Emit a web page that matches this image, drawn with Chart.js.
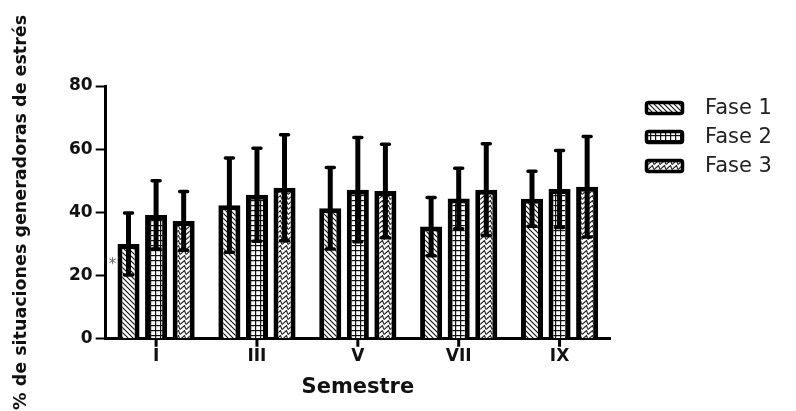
<!DOCTYPE html>
<html>
<head>
<meta charset="utf-8">
<script src="https://cdn.jsdelivr.net/npm/chart.js@4"></script>
<style>
  body { margin: 0; background: #fff; }
</style>
</head>
<body>
<canvas id="grafico" width="796" height="411"></canvas>
<script>
// datos
const semestres = ["I", "III", "V", "VII", "IX"];
const fase1 = [30.0, 42.3, 41.3, 35.5, 44.3];
const fase2 = [39.2, 45.6, 47.2, 44.4, 47.4];
const fase3 = [37.3, 47.8, 46.8, 47.2, 48.1];
const desvio1 = [9.8, 14.9, 12.9, 9.2, 8.7];
const desvio2 = [10.8, 14.7, 16.5, 9.6, 12.2];
const desvio3 = [9.3, 16.8, 14.8, 14.5, 15.9];
const marcaAsterisco = 24;

function crearTrama(tipo) {
  var c = document.createElement("canvas");
  var g = c.getContext("2d");
  if (tipo === "diagonal") {
    c.width = 5; c.height = 5;
    g.fillStyle = "#fff"; g.fillRect(0, 0, 5, 5);
    g.strokeStyle = "#111"; g.lineWidth = 1.1;
    g.beginPath();
    g.moveTo(-1, -1); g.lineTo(6, 6);
    g.moveTo(-1, 4); g.lineTo(1, 6);
    g.moveTo(4, -1); g.lineTo(6, 1);
    g.stroke();
  } else if (tipo === "cuadricula") {
    c.width = 5; c.height = 5;
    g.fillStyle = "#fff"; g.fillRect(0, 0, 5, 5);
    g.fillStyle = "#111";
    g.fillRect(0, 0, 5, 1.2);
    g.fillRect(0, 0, 1.2, 5);
  } else {
    c.width = 6; c.height = 5;
    g.fillStyle = "#fff"; g.fillRect(0, 0, 6, 5);
    g.strokeStyle = "#222"; g.lineWidth = 1.1;
    g.beginPath();
    g.moveTo(0, 4.5); g.lineTo(4.5, 0.5); g.lineTo(6, 4.5);
    g.stroke();
  }
  return g.createPattern(c, "repeat");
}

const tramas = [crearTrama("diagonal"), crearTrama("cuadricula"), crearTrama("zigzag")];

const barrasError = {
  id: "barrasError",
  afterDatasetsDraw(chart) {
    const ctx = chart.ctx;
    const y = chart.scales.y;
    ctx.save();
    ctx.strokeStyle = "#000";
    chart.data.datasets.forEach(function (ds, i) {
      const meta = chart.getDatasetMeta(i);
      meta.data.forEach(function (bar, j) {
        const m = ds.data[j];
        const sd = ds.desvio[j];
        const yAlto = y.getPixelForValue(m + sd);
        const yBajo = y.getPixelForValue(m - sd);
        ctx.lineCap = "butt";
        ctx.lineWidth = 5;
        ctx.beginPath();
        ctx.moveTo(bar.x, yAlto);
        ctx.lineTo(bar.x, yBajo);
        ctx.stroke();
        ctx.lineCap = "round";
        ctx.lineWidth = 3.5;
        ctx.beginPath();
        ctx.moveTo(bar.x - 4, yAlto);
        ctx.lineTo(bar.x + 4, yAlto);
        ctx.moveTo(bar.x - 4, yBajo);
        ctx.lineTo(bar.x + 4, yBajo);
        ctx.stroke();
      });
    });
    // asterisco junto a la primera barra
    const b0 = chart.getDatasetMeta(0).data[0];
    ctx.fillStyle = "#666";
    ctx.font = "15px 'DejaVu Sans'";
    ctx.textAlign = "center";
    ctx.textBaseline = "middle";
    ctx.fillText("*", b0.x - b0.width / 2 - 5, y.getPixelForValue(marcaAsterisco) + 2);
    ctx.restore();
  },
  afterDraw(chart) {
    const ctx = chart.ctx;
    const ejeX = chart.scales.x;
    const abajo = chart.chartArea.bottom;
    ctx.save();
    // marcas del eje x en el centro de cada semestre
    ctx.strokeStyle = "#000";
    ctx.lineWidth = 3;
    ctx.lineCap = "butt";
    ctx.beginPath();
    semestres.forEach(function (s, i) {
      const px = ejeX.getPixelForValue(i);
      ctx.moveTo(px, abajo);
      ctx.lineTo(px, abajo + 8);
    });
    ctx.stroke();
    chart.data.datasets.forEach(function (ds, i) {
      const yy = 101 + i * 29;
      ctx.fillStyle = ds.backgroundColor;
      ctx.strokeStyle = "#000";
      ctx.lineWidth = 3.5;
      ctx.beginPath();
      ctx.roundRect(646.5, yy + 1.5, 36, 11, 2);
      ctx.fill();
      ctx.stroke();
      ctx.fillStyle = "#222";
      ctx.font = "21px 'DejaVu Sans'";
      ctx.textAlign = "left";
      ctx.textBaseline = "middle";
      ctx.fillText(ds.label, 705, yy + 7.5);
    });
    ctx.restore();
  }
};

new Chart(document.getElementById("grafico"), {
  type: "bar",
  data: {
    labels: semestres,
    datasets: [
      { label: "Fase 1", data: fase1, desvio: desvio1, backgroundColor: tramas[0] },
      { label: "Fase 2", data: fase2, desvio: desvio2, backgroundColor: tramas[1] },
      { label: "Fase 3", data: fase3, desvio: desvio3, backgroundColor: tramas[2] },
    ].map(function (d) {
      d.borderColor = "#000";
      d.borderWidth = 5;
      d.categoryPercentage = 0.82;
      d.barPercentage = 0.8;
      return d;
    }),
  },
  options: {
    responsive: false,
    animation: false,
    devicePixelRatio: 1,
    layout: { padding: { left: 0, top: 86, right: 186, bottom: 0 } },
    scales: {
      x: {
        grid: { display: false, drawTicks: false },
        border: { color: "#000", width: 3 },
        ticks: { color: "#111", padding: 9, font: { family: "DejaVu Sans", size: 17, weight: "bold", lineHeight: 1 } },
        title: {
          display: true,
          text: "Semestre",
          color: "#111",
          padding: { top: 1, bottom: 11 },
          font: { family: "DejaVu Sans", size: 21, weight: "bold" },
        },
      },
      y: {
        min: 0,
        max: 80,
        ticks: { stepSize: 20, color: "#111", padding: 3, font: { family: "DejaVu Sans", size: 17, weight: "bold" } },
        grid: { drawOnChartArea: false, drawTicks: true, tickLength: 10, tickWidth: 2, tickColor: "#000" },
        border: { color: "#000", width: 3 },
        title: {
          display: true,
          text: "% de situaciones generadoras de estrés",
          color: "#111",
          padding: { top: 11, bottom: 34 },
          font: { family: "DejaVu Sans", size: 17.5, weight: "bold" },
        },
      },
    },
    plugins: {
      legend: { display: false },
      tooltip: { enabled: false },
    },
  },
  plugins: [barrasError],
});
</script>
</body>
</html>
